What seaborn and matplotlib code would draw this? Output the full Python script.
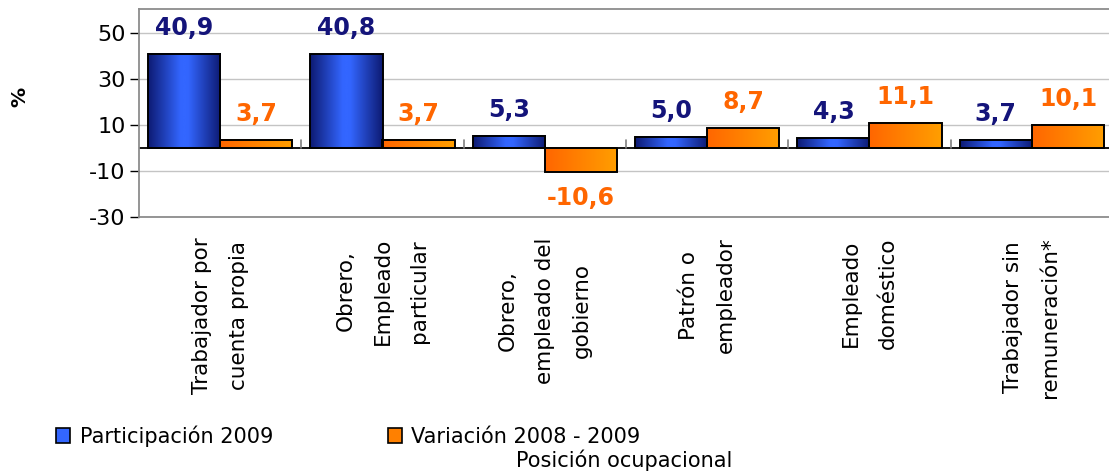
import numpy as np
import pandas as pd
import matplotlib
matplotlib.use("Agg")
import matplotlib.pyplot as plt
from matplotlib.colors import LinearSegmentedColormap
from matplotlib.patches import Patch
import seaborn as sns

categorias = [
    "Trabajador por\ncuenta propia",
    "Obrero,\nEmpleado\nparticular",
    "Obrero,\nempleado del\ngobierno",
    "Patrón o\nempleador",
    "Empleado\ndoméstico",
    "Trabajador sin\nremuneración*",
]
participacion_2009 = [40.9, 40.8, 5.3, 5.0, 4.3, 3.7]
variacion_2008_2009 = [3.7, 3.7, -10.6, 8.7, 11.1, 10.1]
series = ["Participación 2009", "Variación 2008 - 2009"]
y_ticks = [-30, -10, 10, 30, 50]

sns.set_theme(style="white")
plt.rcParams["font.family"] = ["DejaVu Sans"]
plt.rcParams["text.color"] = "black"
plt.rcParams["xtick.color"] = "black"
plt.rcParams["ytick.color"] = "black"
plt.rcParams["xtick.labelcolor"] = "black"
plt.rcParams["ytick.labelcolor"] = "black"

df = pd.DataFrame({
    "categoria": categorias * 2,
    "valor": participacion_2009 + variacion_2008_2009,
    "serie": [series[0]] * len(categorias) + [series[1]] * len(categorias),
})

fig = plt.figure(figsize=(11.09, 4.75), dpi=100)
ax = fig.add_axes([139 / 1109, 1 - 217 / 475, (1113 - 139) / 1109, (217 - 9) / 475])

palette = {series[0]: "#3366ff", series[1]: "#ff8000"}
sns.barplot(data=df, x="categoria", y="valor", hue="serie", order=categorias,
            hue_order=series, palette=palette, width=0.89, dodge=True,
            edgecolor="black", linewidth=1.4, ax=ax, legend=False,
            saturation=1)

ymin, ymax = -30, 60.5
n = len(categorias)

# horizontal gradients inside each bar
cmap_blue = LinearSegmentedColormap.from_list(
    "azul", [(0.0, "#0d1a72"), (0.45, "#3366ff"), (0.55, "#3366ff"), (1.0, "#0d1a72")])
cmap_orange = LinearSegmentedColormap.from_list(
    "naranja", [(0.0, "#ff6600"), (1.0, "#ff9f00")])
grad = np.linspace(0, 1, 256).reshape(1, -1)
for i, patch in enumerate(ax.patches[: 2 * n]):
    x0, y0 = patch.get_x(), patch.get_y()
    w, h = patch.get_width(), patch.get_height()
    cmap = cmap_blue if i < n else cmap_orange
    patch.set_facecolor("none")
    patch.set_zorder(3)
    ax.imshow(grad, cmap=cmap, extent=[x0, x0 + w, min(y0, y0 + h), max(y0, y0 + h)],
              aspect="auto", zorder=2.5, interpolation="bicubic")
ax.set_ylim(ymin, ymax)
ax.set_xlim(-0.5, n - 0.5)

# value labels
label_colors = ["#14147a", "#ff6600"]
for cont, col in zip(ax.containers, label_colors):
    ax.bar_label(cont, labels=[f"{v:.1f}".replace(".", ",") for v in cont.datavalues],
                 padding=10, color=col, fontsize=17, fontweight="bold")

# axes styling
ax.set_yticks(y_ticks)
ax.set_yticklabels([str(t) for t in y_ticks], fontsize=16, color="black")
ax.yaxis.grid(True, color="#c4c4c4", linewidth=1.0)
ax.set_axisbelow(True)
ax.tick_params(axis="y", left=True, length=6.5, width=1.0, color="black", pad=3.0)
ax.tick_params(axis="x", bottom=False, length=0, pad=14.5)
for side in ["left", "top", "bottom"]:
    ax.spines[side].set_color("#8c8c8c")
    ax.spines[side].set_linewidth(1.3)
ax.spines["right"].set_visible(False)

ax.axhline(0, color="black", linewidth=1.3, zorder=2)
for b in np.arange(0.5, n - 0.5, 1.0):
    ax.plot([b, b], [0, 3.5], color="#808080", linewidth=1.2, zorder=2)

for lbl in ax.get_xticklabels():
    lbl.set_rotation(90)
    lbl.set_va("top")
    lbl.set_ha("center")
    lbl.set_multialignment("center")
    lbl.set_fontsize(15.5)
    lbl.set_linespacing(2.05)
    lbl.set_color("black")

ax.set_xlabel("")
ax.set_ylabel("")
fig.text(20 / 1109, 1 - 97 / 475, "%", rotation=90, fontsize=14.5, fontweight="bold",
         ha="center", va="center", color="black")
fig.text(624 / 1109, 1 - 460 / 475, "Posición ocupacional", fontsize=15,
         ha="center", va="center", color="black")

handles = [Patch(facecolor="#3366ff", edgecolor="black", linewidth=1.2),
           Patch(facecolor="#ff8000", edgecolor="black", linewidth=1.2)]
fig.legend(handles, series, loc="center left", bbox_to_anchor=(56 / 1109, 1 - 436 / 475),
           ncol=2, frameon=False, fontsize=15, handlelength=0.68, handleheight=0.68,
           handletextpad=0.45, columnspacing=5.5, borderaxespad=0, borderpad=0,
           labelcolor="black")

fig.savefig("out.png", dpi=100)
